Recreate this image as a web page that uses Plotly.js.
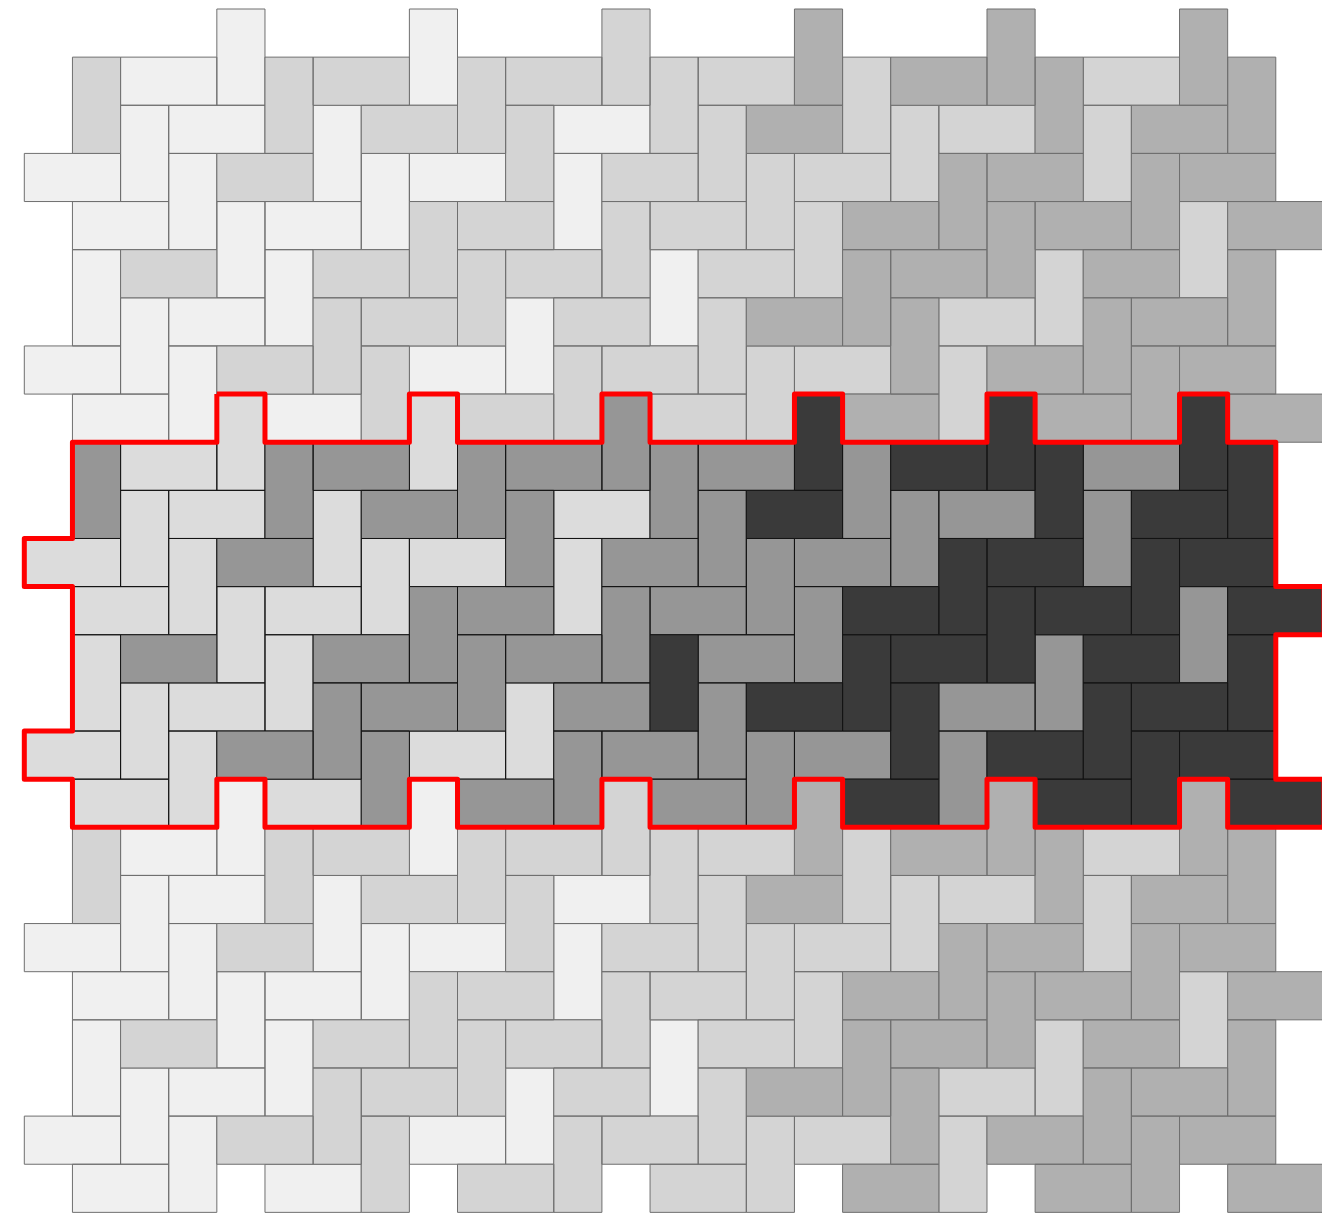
<!DOCTYPE html>
<html><head><meta charset="utf-8">
<script src="https://cdn.plot.ly/plotly-3.0.1.min.js"></script>
<style>html,body{margin:0;padding:0;background:#fff}#chart{width:1322px;height:1222px}
#chart path.js-line{stroke-linejoin:round}</style>
</head><body><div id="chart"></div>
<script>
// Shade level of each tile (0 = light, 1 = medium, 2 = dark), one period of 8 tile rows (k mod 8).
// Vertical tiles of row k, left to right.
const vertLevels = [
  [0,0,1,2,2,2],
  [1,1,1,1,1,2,2],
  [0,0,1,1,1,1],
  [0,0,0,1,2,2],
  [0,1,1,1,2,1],
  [0,0,1,0,2,1,2],
  [0,1,0,1,2,2],
  [0,1,1,1,1,2]
];
// Same for the highlighted band (differs in one tile).
const bandVertLevels = [
  [0,0,1,2,2,2],
  [1,1,1,1,1,2,2],
  [0,0,1,1,1,1],
  [0,0,0,1,2,2],
  [0,1,1,1,2,1],
  [0,0,1,2,2,1,2],
  [0,1,0,1,2,2],
  [0,1,1,1,1,2]
];
// Horizontal tiles of row k, left to right.
const horizLevels = [
  [0,1,1,1,2,1],
  [0,1,0,2,1,2],
  [0,1,0,1,1,2,2],
  [0,0,1,1,2,2,2],
  [1,1,1,1,2,2],
  [0,1,1,2,1,2],
  [0,1,0,1,1,2,2],
  [0,0,1,1,2,2,2]
];
const outerColors = ['#f0f0f0', '#d4d4d4', '#b0b0b0'];
const bandColors  = ['#dcdcdc', '#969696', '#3a3a3a'];
const tileRows = 24;          // k = 0..23
const bandRows = [8, 15];     // highlighted band, k range
const colRange = [0, 26];     // tile centres must lie in this x range

// ---- build tiles ----
const tiles = [];
for (let k = 0; k < tileRows; k++) {
  const p = k % 8;
  const inBand = k >= bandRows[0] && k <= bandRows[1];
  const vl = (inBand ? bandVertLevels : vertLevels)[p];
  let i = 0;
  for (let c = -2; c <= 28; c++) {
    if (((c - k) % 4 + 4) % 4 !== 0) continue;
    const cx = c + 0.5;
    if (cx < colRange[0] + 1 || cx > colRange[1]) continue;
    tiles.push({x0: c, x1: c + 1, y0: k, y1: k + 2, band: inBand, level: vl[i++]});
  }
  const hl = horizLevels[p];
  let j = 0;
  for (let c = -2; c <= 28; c++) {
    if (((c - k - 2) % 4 + 4) % 4 !== 0) continue;
    const cx = c + 1;
    if (cx < colRange[0] + 1 || cx > colRange[1]) continue;
    tiles.push({x0: c, x1: c + 2, y0: k + 1, y1: k + 2, band: inBand, level: hl[j++]});
  }
}

const traces = [];
[false, true].forEach(band => {
  [0, 1, 2].forEach(level => {
    const xs = [], ys = [];
    tiles.filter(t => t.band === band && t.level === level).forEach(t => {
      xs.push(t.x0, t.x1, t.x1, t.x0, t.x0, null);
      ys.push(t.y0, t.y0, t.y1, t.y1, t.y0, null);
    });
    if (!xs.length) return;
    const col = (band ? bandColors : outerColors)[level];
    traces.push({
      type: 'scatter', mode: 'lines', x: xs, y: ys, fill: 'toself', fillcolor: col,
      line: {color: band ? '#141414' : '#6f6f6f', width: 1}, hoverinfo: 'skip'
    });
  });
});

// ---- red outline of the band (boundary of its cells) ----
const cells = new Set();
tiles.filter(t => t.band).forEach(t => {
  for (let x = t.x0; x < t.x1; x++) for (let y = t.y0; y < t.y1; y++) cells.add(x + ',' + y);
});
const edges = new Map();
function addE(a, b) { const key = a.join(','); if (!edges.has(key)) edges.set(key, []); edges.get(key).push(b); }
cells.forEach(key => {
  const [x, y] = key.split(',').map(Number);
  if (!cells.has(x + ',' + (y - 1))) addE([x, y], [x + 1, y]);
  if (!cells.has((x + 1) + ',' + y)) addE([x + 1, y], [x + 1, y + 1]);
  if (!cells.has(x + ',' + (y + 1))) addE([x + 1, y + 1], [x, y + 1]);
  if (!cells.has((x - 1) + ',' + y)) addE([x, y + 1], [x, y]);
});
const startKey = edges.keys().next().value;
let cur = startKey.split(',').map(Number);
const path = [cur];
while (true) {
  const list = edges.get(cur.join(','));
  if (!list || !list.length) break;
  cur = list.shift();
  path.push(cur);
}
// drop collinear points
const simp = [];
for (let i = 0; i < path.length; i++) {
  const a = simp[simp.length - 2], b = simp[simp.length - 1], c = path[i];
  if (a && b && ((a[0] === b[0] && b[0] === c[0]) || (a[1] === b[1] && b[1] === c[1]))) simp[simp.length - 1] = c;
  else simp.push(c);
}
traces.push({
  type: 'scatter', mode: 'lines', x: simp.map(p => p[0]), y: simp.map(p => p[1]),
  line: {color: '#ff0000', width: 5}, hoverinfo: 'skip'
});

const layout = {
  width: 1322, height: 1222,
  margin: {l: 0, r: 0, t: 0, b: 0, pad: 0},
  paper_bgcolor: '#ffffff', plot_bgcolor: '#ffffff',
  showlegend: false, hovermode: false,
  xaxis: {range: [-0.505, 26.96], visible: false, fixedrange: true},
  yaxis: {range: [25.2, -0.187], visible: false, fixedrange: true}
};
Plotly.newPlot('chart', traces, layout, {staticPlot: true, displayModeBar: false});
</script>
</body></html>
